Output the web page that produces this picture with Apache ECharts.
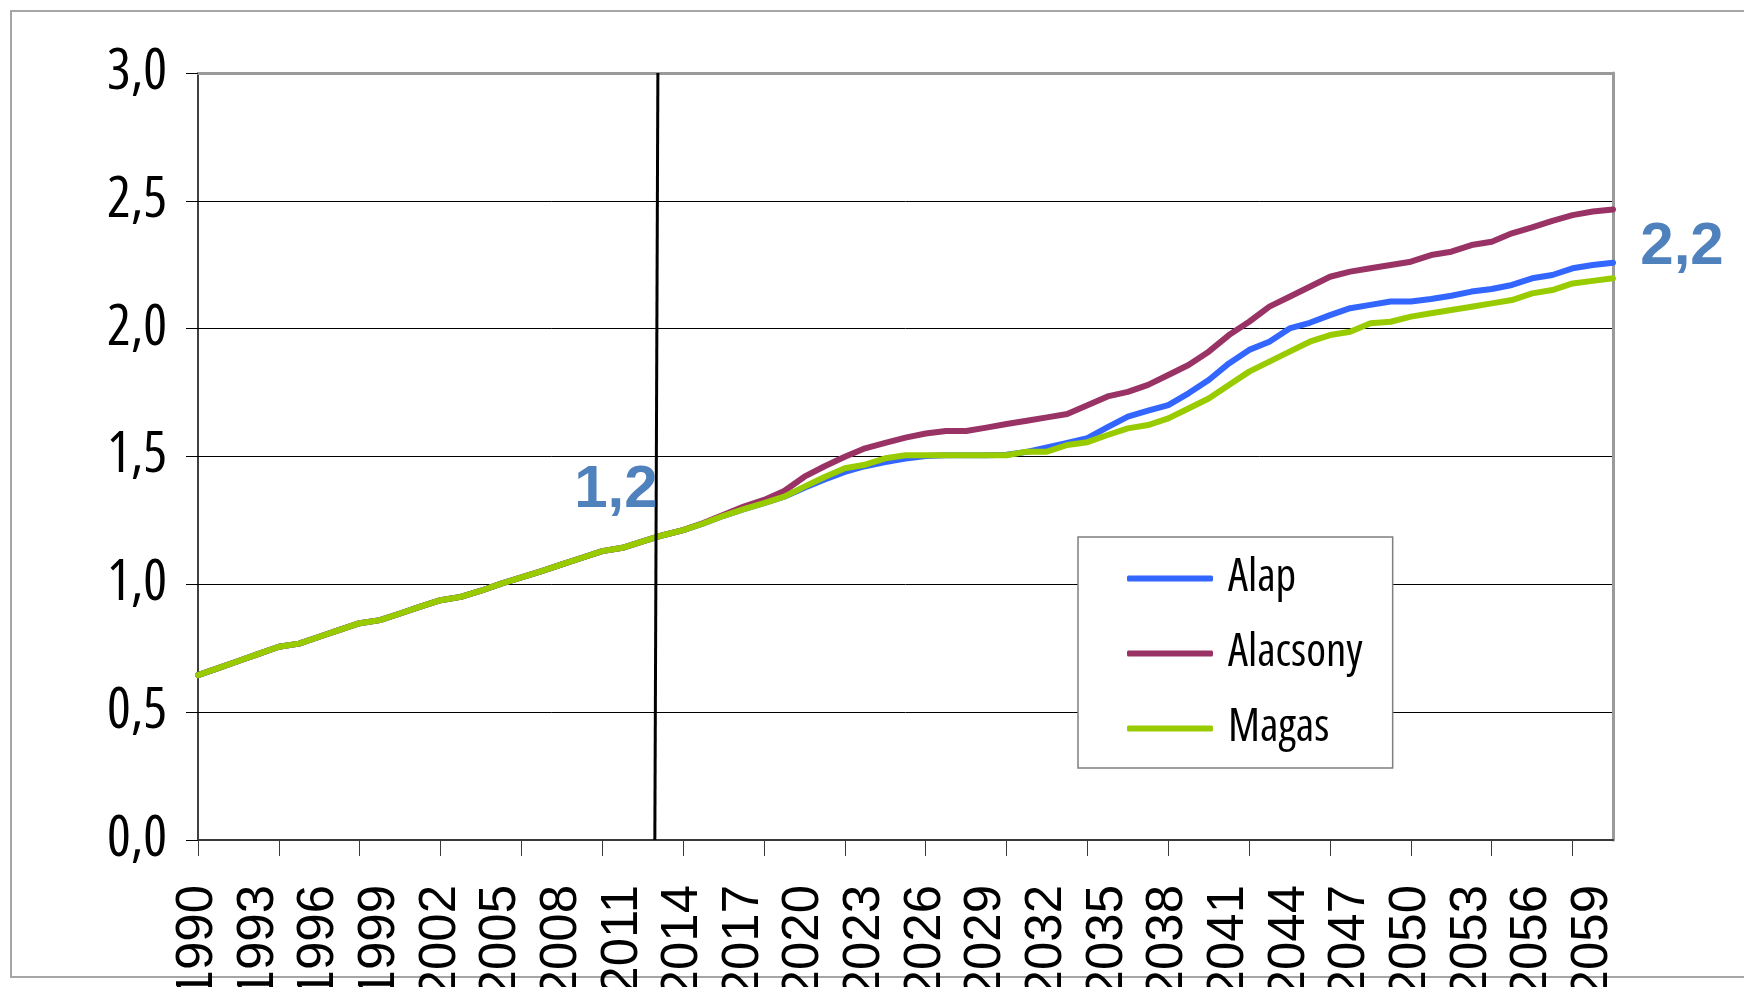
<!DOCTYPE html>
<html lang="hu">
<head>
<meta charset="utf-8">
<title>Alap / Alacsony / Magas</title>
<script src="https://cdn.jsdelivr.net/npm/echarts@6.0.0/dist/echarts.min.js"></script>
<style>
  html, body { margin: 0; padding: 0; background: #fff; }
  #chart { width: 1744px; height: 987px; }
</style>
</head>
<body>
<div id="chart"></div>
<script>
// Évek (kategóriák)
const years = [
  '1990','1991','1992','1993','1994','1995','1996','1997','1998','1999',
  '2000','2001','2002','2003','2004','2005','2006','2007','2008','2009',
  '2010','2011','2012','2013','2014','2015','2016','2017','2018','2019',
  '2020','2021','2022','2023','2024','2025','2026','2027','2028','2029',
  '2030','2031','2032','2033','2034','2035','2036','2037','2038','2039',
  '2040','2041','2042','2043','2044','2045','2046','2047','2048','2049',
  '2050','2051','2052','2053','2054','2055','2056','2057','2058','2059',
  '2060'
];

const alap = [
  0.645, 0.672, 0.700, 0.728, 0.756, 0.768, 0.795, 0.822, 0.848, 0.860,
  0.886, 0.913, 0.938, 0.951, 0.975, 1.003, 1.027, 1.052, 1.078, 1.104,
  1.130, 1.143, 1.168, 1.192, 1.212, 1.238, 1.268, 1.294, 1.318, 1.343,
  1.378, 1.410, 1.440, 1.462, 1.478, 1.492, 1.502, 1.505, 1.505, 1.505,
  1.507, 1.518, 1.535, 1.553, 1.572, 1.615, 1.656, 1.679, 1.701, 1.747,
  1.799, 1.864, 1.917, 1.949, 2.001, 2.023, 2.053, 2.080, 2.093, 2.106,
  2.106, 2.116, 2.129, 2.145, 2.155, 2.171, 2.197, 2.210, 2.236, 2.249,
  2.258
];

const alacsony = [
  0.645, 0.672, 0.700, 0.728, 0.756, 0.768, 0.795, 0.822, 0.848, 0.860,
  0.886, 0.913, 0.938, 0.951, 0.975, 1.003, 1.027, 1.052, 1.078, 1.104,
  1.130, 1.143, 1.168, 1.192, 1.212, 1.240, 1.272, 1.304, 1.330, 1.365,
  1.421, 1.462, 1.499, 1.532, 1.553, 1.574, 1.590, 1.600, 1.600, 1.613,
  1.627, 1.640, 1.653, 1.666, 1.700, 1.735, 1.753, 1.780, 1.819, 1.858,
  1.910, 1.975, 2.027, 2.086, 2.125, 2.164, 2.203, 2.223, 2.236, 2.249,
  2.262, 2.288, 2.301, 2.327, 2.340, 2.373, 2.396, 2.422, 2.444, 2.458,
  2.466
];

const magas = [
  0.645, 0.672, 0.700, 0.728, 0.756, 0.768, 0.795, 0.822, 0.848, 0.860,
  0.886, 0.913, 0.938, 0.951, 0.975, 1.003, 1.027, 1.052, 1.078, 1.104,
  1.130, 1.143, 1.168, 1.192, 1.212, 1.238, 1.268, 1.294, 1.318, 1.343,
  1.382, 1.420, 1.454, 1.468, 1.493, 1.505, 1.505, 1.505, 1.505, 1.505,
  1.505, 1.519, 1.519, 1.545, 1.556, 1.584, 1.610, 1.623, 1.649, 1.688,
  1.727, 1.780, 1.832, 1.871, 1.910, 1.949, 1.975, 1.988, 2.021, 2.027,
  2.047, 2.060, 2.073, 2.086, 2.099, 2.112, 2.138, 2.151, 2.177, 2.187,
  2.197
];

// Függőleges elválasztó vonal (tény / előrejelzés)
const cutYears = [2012.75, 2012.6];
const cutValues = [3.0, 0.0];

// Kiemelt értékek
const annoYears = ['2013', '2060'];
const annoValues = [1.192, 2.258];
const annoTexts = ['1,2', '2,2'];

// Keskeny betű (Arial Narrow helyett Open Sans condensed)
const narrowFont = '"Open Sans", "DejaVu Sans Condensed", sans-serif';
const normalFont = '"Liberation Sans", Arial, sans-serif';

const chart = echarts.init(document.getElementById('chart'));

const annoOffsets = [[-47, -45], [69, -15]];
const frameGray = '#9a9a9a';

const option = {
  animation: false,
  backgroundColor: '#fff',
  graphic: [
    {
      type: 'rect',
      silent: true,
      z: 0,
      shape: { x: 11, y: 11, width: 1800, height: 966 },
      style: { fill: 'none', stroke: '#a6a6a6', lineWidth: 2 }
    }
  ],
  grid: {
    left: 198,
    right: 131,
    top: 73,
    bottom: 147,
    containLabel: false,
    outerBoundsMode: 'none'
  },
  legend: {
    data: ['Alap', 'Alacsony', 'Magas'],
    orient: 'vertical',
    left: 1078,
    top: 537,
    padding: [19, 30, 17, 49],
    itemGap: 30,
    itemWidth: 86,
    itemHeight: 6,
    icon: 'roundRect',
    backgroundColor: '#fff',
    borderColor: '#7f7f7f',
    borderWidth: 1.5,
    textStyle: {
      fontFamily: narrowFont,
      fontStyle: 'condensed',
      fontSize: 45,
      color: '#000',
      padding: [0, 0, 0, 10]
    }
  },
  xAxis: [
    {
      type: 'category',
      data: years,
      boundaryGap: false,
      axisLine: { lineStyle: { color: '#3a3a3a', width: 2 } },
      axisTick: { interval: 3, length: 16, lineStyle: { color: '#3a3a3a', width: 1 } },
      axisLabel: {
        interval: 2,
        rotate: 90,
        margin: 45,
        fontSize: 51,
        fontFamily: normalFont,
        color: '#000'
      },
      splitLine: { show: false }
    },
    {
      // rejtett értéktengely az elválasztó vonalhoz, felső keretként
      type: 'value',
      min: 1990,
      max: 2060,
      position: 'top',
      axisLine: { show: true, onZero: false, lineStyle: { color: frameGray, width: 3 } },
      axisTick: { show: false },
      axisLabel: { show: false },
      splitLine: { show: false }
    }
  ],
  yAxis: [
    {
      type: 'value',
      min: 0,
      max: 3,
      interval: 0.5,
      axisLine: { show: true, lineStyle: { color: '#000', width: 1.5 } },
      axisTick: { show: true, length: 12, lineStyle: { color: '#000', width: 1 } },
      axisLabel: {
        margin: 31,
        fontSize: 56,
        fontFamily: narrowFont,
        fontStyle: 'condensed',
        color: '#000',
        formatter: v => v.toFixed(1).replace('.', ',')
      },
      splitLine: {
        show: true,
        showMinLine: false,
        showMaxLine: false,
        lineStyle: { color: '#000', width: 1 }
      }
    },
    {
      // jobb oldali keret
      type: 'value',
      min: 0,
      max: 3,
      position: 'right',
      axisLine: { show: true, onZero: false, lineStyle: { color: frameGray, width: 3 } },
      axisTick: { show: false },
      axisLabel: { show: false },
      splitLine: { show: false }
    }
  ],
  series: [
    {
      name: 'Alap',
      type: 'line',
      data: alap,
      symbol: 'none',
      lineStyle: { color: '#3366FF', width: 6, cap: 'round', join: 'round' },
      itemStyle: { color: '#3366FF' },
      markPoint: {
        silent: true,
        symbol: 'circle',
        symbolSize: 1,
        itemStyle: { color: 'rgba(0,0,0,0)' },
        label: {
          show: true,
          position: 'inside',
          fontFamily: normalFont,
          fontSize: 60,
          fontWeight: 'bold',
          color: '#4F81BD'
        },
        data: annoYears.map((y, i) => ({
          coord: [y, annoValues[i]],
          value: annoTexts[i],
          label: { offset: annoOffsets[i], formatter: annoTexts[i] }
        }))
      }
    },
    {
      name: 'Alacsony',
      type: 'line',
      data: alacsony,
      symbol: 'none',
      lineStyle: { color: '#993366', width: 6, cap: 'round', join: 'round' },
      itemStyle: { color: '#993366' }
    },
    {
      name: 'Magas',
      type: 'line',
      data: magas,
      symbol: 'none',
      lineStyle: { color: '#99CC00', width: 6, cap: 'round', join: 'round' },
      itemStyle: { color: '#99CC00' }
    },
    {
      name: 'cut',
      type: 'line',
      xAxisIndex: 1,
      data: cutYears.map((x, i) => [x, cutValues[i]]),
      symbol: 'none',
      silent: true,
      lineStyle: { color: '#000', width: 3 },
      z: 3
    }
  ]
};

chart.setOption(option);
</script>
</body>
</html>
